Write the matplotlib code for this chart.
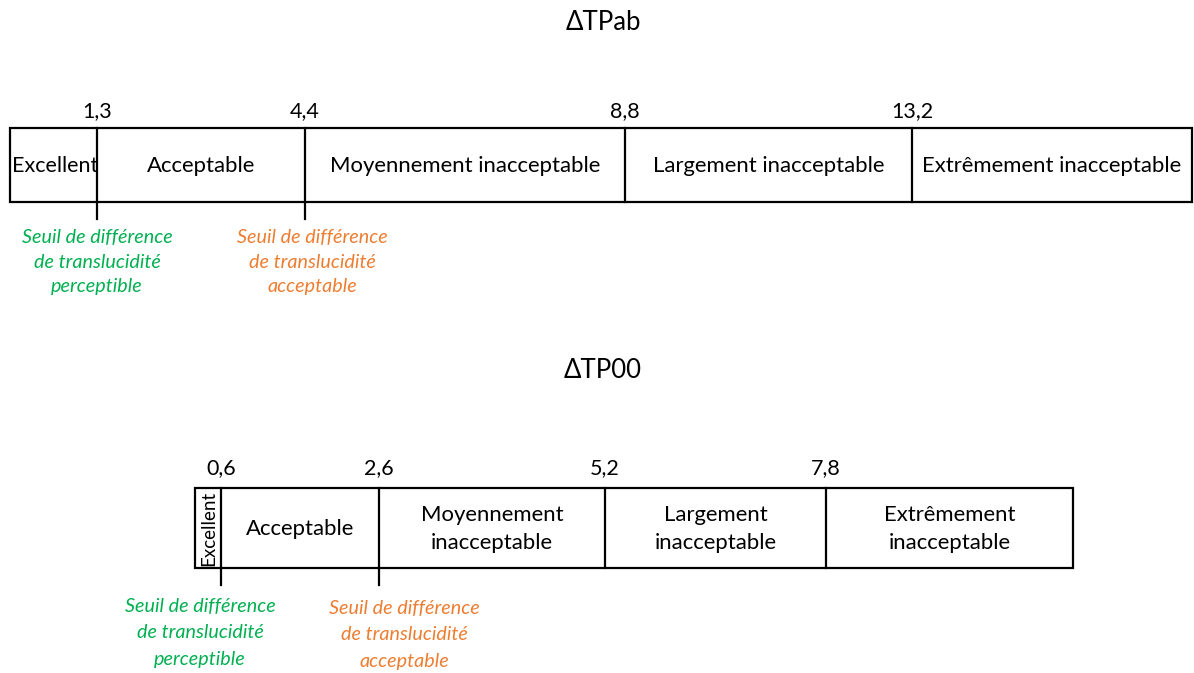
import matplotlib
matplotlib.use("Agg")
import matplotlib.pyplot as plt
from matplotlib.patches import Rectangle

# ---- data ----
titles = ["ΔTPab", "ΔTP00"]
thresholds_ab = ["1,3", "4,4", "8,8", "13,2"]
thresholds_00 = ["0,6", "2,6", "5,2", "7,8"]
categories_ab = ["Excellent", "Acceptable", "Moyennement inacceptable",
                 "Largement inacceptable", "Extrêmement inacceptable"]
categories_00 = ["Excellent", "Acceptable", "Moyennement\ninacceptable",
                 "Largement\ninacceptable", "Extrêmement\ninacceptable"]
note_perceptible = "Seuil de différence\nde translucidité\nperceptible"
note_acceptable = "Seuil de différence\nde translucidité\nacceptable"

# ---- layout (pixels) ----
W, H = 1194, 673
FONT = "Lato"
GREEN = "#00B050"
ORANGE = "#ED7D31"

fig = plt.figure(figsize=(W / 100, H / 100), dpi=100)
ax = fig.add_axes([0, 0, 1, 1])
ax.set_xlim(0, W)
ax.set_ylim(H, 0)
ax.axis("off")

def scale(title, title_y, x0, x1, y0, y1, divs, thr, cats, rotate_first,
          tick_len, thr_y, notes_xy, fs_cat, ls, note_ls):
    ax.text(603, title_y, title, ha="center", va="center",
            fontsize=18.5, family=FONT)
    ax.add_patch(Rectangle((x0, y0), x1 - x0, y1 - y0, fill=False,
                           lw=1.6, ec="black"))
    for d, t in zip(divs, thr):
        ax.plot([d, d], [y0, y1], color="black", lw=1.6)
        ax.text(d, thr_y, t, ha="center", va="center",
                fontsize=15.5, family=FONT)
    for d in divs[:2]:
        ax.plot([d, d], [y1, y1 + tick_len], color="black", lw=1.6)
    edges = [x0] + list(divs) + [x1]
    for i, c in enumerate(cats):
        cx = (edges[i] + edges[i + 1]) / 2
        cy = (y0 + y1) / 2 + 1
        if i == 0 and rotate_first:
            ax.text(cx + 1, cy - 1, c, ha="center", va="center", rotation=90,
                    fontsize=13.5, family=FONT)
        elif i == 0:
            ax.text(cx + 1.5, cy, c, ha="center", va="center",
                    fontsize=fs_cat - 0.4, family=FONT)
        else:
            ax.text(cx, cy, c, ha="center", va="center", fontsize=fs_cat,
                    family=FONT, linespacing=ls)
    (gx, gy), (ox, oy) = notes_xy
    ax.text(gx, gy, note_perceptible, ha="center", va="center", color=GREEN,
            style="italic", fontsize=14.2, family=FONT, linespacing=note_ls)
    ax.text(ox, oy, note_acceptable, ha="center", va="center", color=ORANGE,
            style="italic", fontsize=14.2, family=FONT, linespacing=note_ls)

scale(titles[0], 22, 10, 1192, 128, 202, [97, 305, 625, 912],
      thresholds_ab, categories_ab, False, 17, 111,
      [(97, 262), (312, 262)], 15.9, 1.2, 1.55)
scale(titles[1], 370, 195, 1073, 488, 568, [221, 379, 605, 826],
      thresholds_00, categories_00, True, 17, 468,
      [(200, 633), (404, 635)], 15.9, 1.45, 1.65)

fig.savefig("out.png", dpi=100)
